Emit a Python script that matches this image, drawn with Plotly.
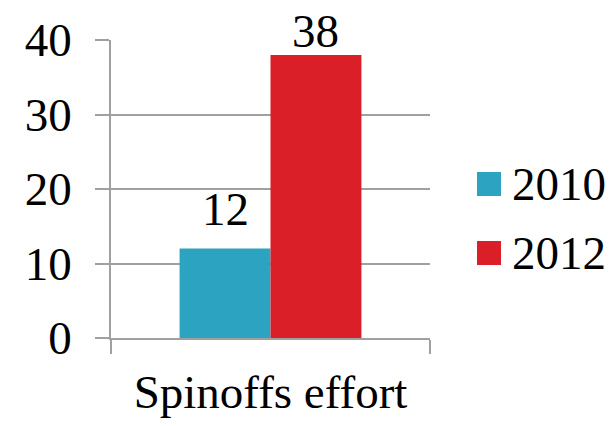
import plotly.graph_objects as go

categories = ["Spinoffs effort"]
series_names = ["2010", "2012"]
values_2010 = [12]
values_2012 = [38]
colors = ["#2CA3C0", "#DA1F29"]
y_ticks = [0, 10, 20, 30, 40]

FONT = "Liberation Serif"
FS = 47
W, H = 616, 426
L, R, T, B = 111, 186, 40, 88

fig = go.Figure()
series = [values_2010, values_2012]
for name, vals, col in zip(series_names, series, colors):
    fig.add_trace(go.Bar(x=categories, y=vals, name=name, marker_color=col,
                         marker_line_width=0, showlegend=False))

# value labels above each bar
offsets = [-45, 45]
yshifts = [21, 5]
for vals, dx, ys in zip(series, offsets, yshifts):
    for c, v in zip(categories, vals):
        fig.add_annotation(x=c, y=v, text=str(v), showarrow=False, xshift=dx,
                           yanchor="bottom", yshift=ys - 9,
                           font=dict(family=FONT, size=FS, color="black"))

# legend drawn manually (large square keys)
pw = W - L - R
ph = H - T - B
def px2x(px):
    return (px - L) / pw
def py2y(py):
    return 1 - (py - T) / ph
leg_y = [184, 253]
for name, col, cy in zip(series_names, colors, leg_y):
    fig.add_shape(type="rect", xref="paper", yref="paper",
                  x0=px2x(477), x1=px2x(501), y0=py2y(cy + 12), y1=py2y(cy - 12),
                  fillcolor=col, line_width=0)
    fig.add_annotation(xref="paper", yref="paper", x=px2x(510), y=py2y(cy),
                       xanchor="left", yanchor="middle", text=name, showarrow=False,
                       font=dict(family=FONT, size=FS, color="black"))

fig.update_layout(
    width=W, height=H,
    margin=dict(l=L, r=R, t=T, b=B),
    paper_bgcolor="white", plot_bgcolor="white",
    barmode="group", bargap=0.43, bargroupgap=0,
    font=dict(family=FONT, size=FS, color="black"),
    showlegend=False,
)
fig.update_yaxes(range=[0, 40], tickvals=y_ticks, showgrid=True, gridcolor="#A0A0A0",
                 gridwidth=1.5, ticks="outside", ticklen=14, tickcolor="#A0A0A0",
                 tickwidth=1.5, showline=True, linecolor="#A0A0A0", linewidth=1.5,
                 zeroline=False, ticklabelstandoff=14, automargin=False)
fig.update_xaxes(tickson="boundaries", ticks="outside", ticklen=14, tickcolor="#A0A0A0",
                 tickwidth=1.5, showline=True, linecolor="#A0A0A0", linewidth=1.5,
                 showgrid=False, ticklabelstandoff=12, automargin=False)

fig.write_html("out.html")
